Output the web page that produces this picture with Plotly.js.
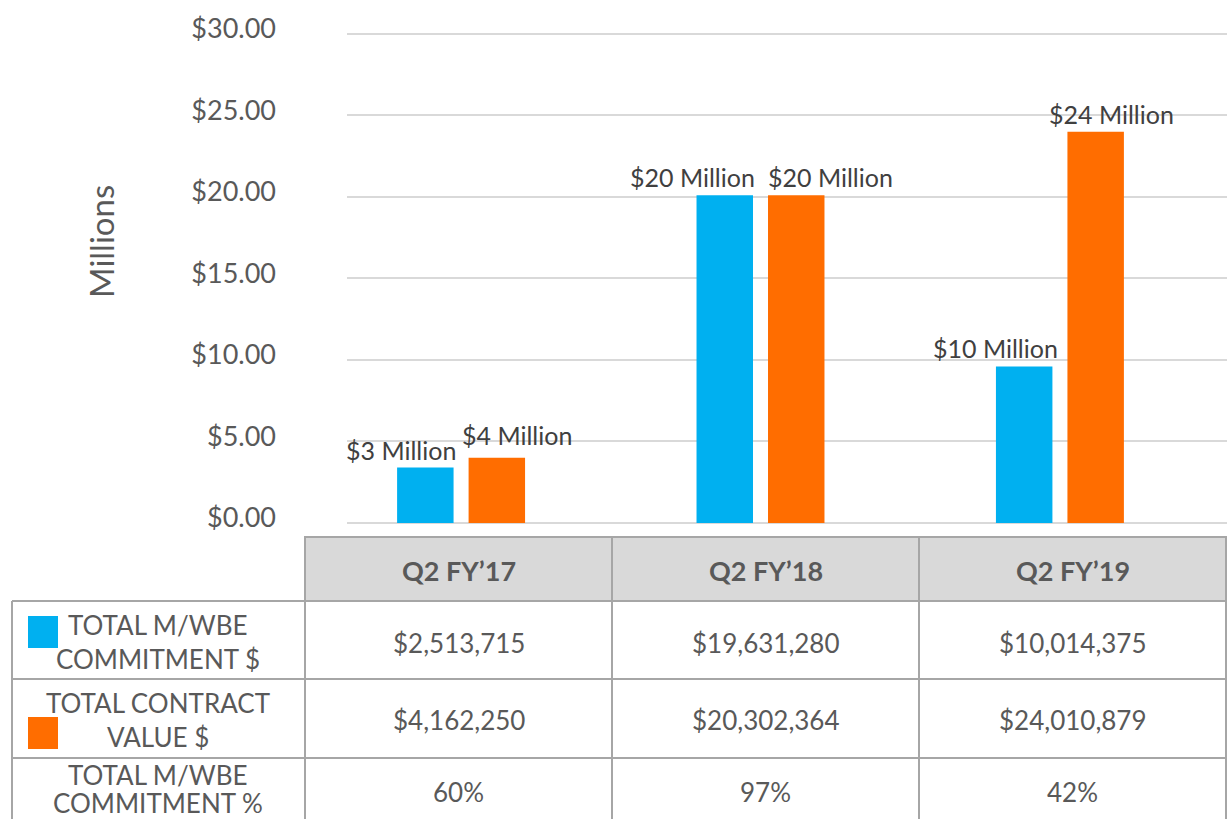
<!DOCTYPE html>
<html>
<head>
<meta charset="utf-8">
<script src="https://cdn.plot.ly/plotly-3.0.1.min.js"></script>
<style>html,body{margin:0;padding:0;background:#fff;}#chart{width:1227px;height:819px;}</style>
</head>
<body>
<div id="chart"></div>
<script>
// ---- data ----
const categories = ["Q2 FY\u201917", "Q2 FY\u201918", "Q2 FY\u201919"];
// plotted bar heights (millions of $), as drawn in the picture
const commitmentBars = [3.4, 20.1, 9.6];
const contractBars = [4.0, 20.1, 24.0];
// table values
const commitmentDollars = [2513715, 19631280, 10014375];
const contractDollars = [4162250, 20302364, 24010879];
const commitmentPct = [60, 97, 42];
const rowLabels = [["TOTAL M/WBE", "COMMITMENT $"], ["TOTAL CONTRACT", "VALUE $"], ["TOTAL M/WBE", "COMMITMENT %"]];
const yTickVals = [0, 5, 10, 15, 20, 25, 30];
const yTickText = ["$0.00", "$5.00", "$10.00", "$15.00", "$20.00", "$25.00", "$30.00"];

// ---- styling ----
const BLUE = "#00b0f0", ORANGE = "#ff6d00";
const FONT = "Lato, 'Open Sans', sans-serif";
const W = 1227, H = 819;
const PL = 347, PR = 1227, PT = 29, PB = 523;
const px = v => (v - PL) / (PR - PL);
const py = v => (PB - v) / (PB - PT);
// horizontal label nudges (pixels) relative to group centre
const blueNudge = [-60, -68, -64];
const orangeNudge = [56, 70, 52];
// row label line positions (pixels)
const rowLineY = [[625, 659], [703, 737], [775, 803]];

const fmt = n => "$" + n.toLocaleString("en-US");

const traces = [
  {type: "bar", name: "TOTAL M/WBE COMMITMENT $", x: categories, y: commitmentBars,
   marker: {color: BLUE}, hoverinfo: "skip"},
  {type: "bar", name: "TOTAL CONTRACT VALUE $", x: categories, y: contractBars,
   marker: {color: ORANGE}, hoverinfo: "skip"}
];

const annotations = [];
const labelFont = {family: FONT, size: 25, color: "#404040"};
categories.forEach((c, i) => {
  annotations.push({x: c, y: commitmentBars[i], xref: "x", yref: "y", xshift: blueNudge[i], yshift: 1,
    xanchor: "center", yanchor: "bottom", showarrow: false,
    text: "$" + Math.round(commitmentBars[i]) + " Million", font: labelFont});
  annotations.push({x: c, y: contractBars[i], xref: "x", yref: "y", xshift: orangeNudge[i], yshift: i === 0 ? 6 : 1,
    xanchor: "center", yanchor: "bottom", showarrow: false,
    text: "$" + Math.round(contractBars[i]) + " Million", font: labelFont});
});

// y-axis title
annotations.push({x: px(101), y: py(242), xref: "paper", yref: "paper", showarrow: false,
  xanchor: "center", yanchor: "middle", textangle: -90, text: "Millions",
  font: {family: FONT, size: 33, color: "#595959"}});

// table geometry (pixels)
const colEdges = [305, 612, 919, 1226];
const rowEdges = [601, 679, 758, 819];
const headerTop = 537, tableLeft = 12;
const colCenters = [0, 1, 2].map(i => (colEdges[i] + colEdges[i + 1]) / 2);
const cellFont = {family: FONT, size: 26, color: "#595959"};
const cell = (x, y, text, font) => ({x: px(x), y: py(y), xref: "paper", yref: "paper", showarrow: false,
  xanchor: "center", yanchor: "middle", align: "center", text: text, font: font});

categories.forEach((c, i) => {
  annotations.push(cell(colCenters[i], 570, "<b>" + c + "</b>", {family: FONT, size: 27, color: "#595959"}));
  annotations.push(cell(colCenters[i], 643, fmt(commitmentDollars[i]), cellFont));
  annotations.push(cell(colCenters[i], 720, fmt(contractDollars[i]), cellFont));
  annotations.push(cell(colCenters[i], 792, commitmentPct[i] + "%", cellFont));
});
rowLabels.forEach((lines, r) => {
  lines.forEach((t, k) => annotations.push(cell(158, rowLineY[r][k], t, {family: FONT, size: 26, color: "#595959"})));
});

const BORDER = {color: "#a6a6a6", width: 2};
const shapes = [];
shapes.push({type: "rect", xref: "paper", yref: "paper", x0: px(colEdges[0]), x1: px(colEdges[3]),
  y0: py(headerTop), y1: py(rowEdges[0]), fillcolor: "#d9d9d9", line: BORDER, layer: "below"});
rowEdges.slice(0, 3).forEach(y => shapes.push({type: "line", xref: "paper", yref: "paper",
  x0: px(tableLeft), x1: px(colEdges[3]), y0: py(y), y1: py(y), line: BORDER}));
colEdges.forEach(x => shapes.push({type: "line", xref: "paper", yref: "paper",
  x0: px(x), x1: px(x), y0: py(headerTop), y1: py(H + 5), line: BORDER}));
shapes.push({type: "line", xref: "paper", yref: "paper", x0: px(tableLeft), x1: px(tableLeft),
  y0: py(rowEdges[0]), y1: py(H + 5), line: BORDER});
// legend keys
shapes.push({type: "rect", xref: "paper", yref: "paper", x0: px(28), x1: px(58), y0: py(616), y1: py(648),
  fillcolor: BLUE, line: {width: 0}});
shapes.push({type: "rect", xref: "paper", yref: "paper", x0: px(28), x1: px(58), y0: py(717), y1: py(749),
  fillcolor: ORANGE, line: {width: 0}});

const layout = {
  width: W, height: H,
  margin: {l: PL, r: W - PR, t: PT, b: H - PB, pad: 0},
  paper_bgcolor: "#ffffff", plot_bgcolor: "#ffffff",
  showlegend: false,
  barmode: "group", bargap: 0.5225, bargroupgap: 0.21,
  font: {family: FONT, color: "#595959"},
  xaxis: {type: "category", range: [-0.381, 2.558], showticklabels: false, showgrid: false,
    zeroline: false, showline: false, ticks: "", fixedrange: true},
  yaxis: {range: [0, 30.3], tickvals: yTickVals, ticktext: yTickText, showgrid: true,
    gridcolor: "#d9d9d9", gridwidth: 2, zeroline: true, zerolinecolor: "#d9d9d9", zerolinewidth: 2,
    showline: false, ticks: "", ticklabelstandoff: 70, ticklabelshift: -5,
    tickfont: {family: FONT, size: 27, color: "#595959"},
    automargin: false, fixedrange: true},
  annotations: annotations,
  shapes: shapes
};

Plotly.newPlot("chart", traces, layout, {displayModeBar: false, staticPlot: true});
</script>
</body>
</html>
